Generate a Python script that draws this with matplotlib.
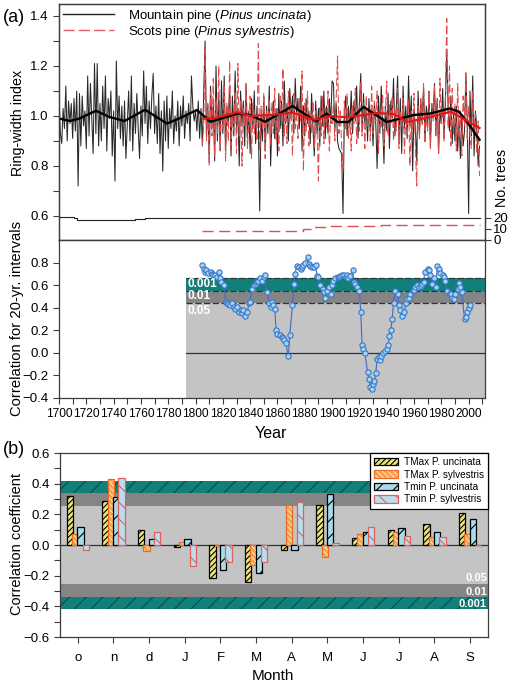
import numpy as np
import matplotlib
matplotlib.use('Agg')
import matplotlib.pyplot as plt
from matplotlib.patches import Patch
from matplotlib.lines import Line2D

plt.rcParams['font.family'] = ['Liberation Sans', 'DejaVu Sans']
plt.rcParams['mathtext.fontset'] = 'custom'
plt.rcParams['mathtext.rm'] = 'Liberation Sans'
plt.rcParams['mathtext.it'] = 'Liberation Sans:italic'
plt.rcParams['hatch.linewidth'] = 0.8

# ---- ring-width chronologies ----
mp_start = 1700
mp_rwi = [
    1.08, 0.93, 0.89, 1.03, 0.95, 1.12, 0.90, 1.06, 0.97, 1.05,
    0.91, 1.07, 0.94, 1.10, 0.72, 1.09, 0.88, 1.08, 0.96, 1.02,
    0.87, 1.16, 0.92, 1.13, 0.99, 0.85, 1.21, 0.93, 1.21, 0.88,
    1.05, 0.90, 1.12, 0.95, 1.16, 0.86, 1.07, 0.99, 1.10, 0.84,
    1.02, 0.74, 1.22, 0.95, 1.08, 0.91, 1.04, 0.88, 1.06, 0.83,
    0.97, 1.10, 0.90, 1.16, 0.86, 1.05, 0.93, 1.09, 0.95, 0.83,
    1.04, 0.92, 1.18, 0.97, 1.12, 0.89, 1.06, 0.95, 1.08, 1.17,
    0.93, 1.04, 0.89, 1.09, 0.85, 1.02, 0.78, 1.06, 0.90, 1.08,
    0.87, 1.03, 0.95, 1.10, 0.89, 1.00, 0.94, 1.06, 0.88, 1.04,
    0.96, 1.08, 0.91, 1.02, 0.97, 1.05, 0.90, 1.16, 1.04, 0.98,
    1.02, 0.94, 1.06, 0.91, 1.03, 0.88, 1.10, 1.30, 0.92, 1.04,
    0.83, 1.12, 0.95, 1.05, 0.82, 1.20, 0.90, 1.08, 0.87, 1.14,
    0.93, 1.16, 0.86, 1.04, 0.97, 1.12, 0.84, 1.08, 0.92, 1.18,
    0.95, 1.03, 0.80, 1.10, 0.96, 1.06, 0.88, 1.13, 0.91, 1.02,
    0.85, 1.07, 0.95, 1.10, 0.89, 1.04, 0.97, 0.62, 1.01, 0.90,
    1.08, 0.86, 1.04, 0.93, 1.12, 0.80, 0.99, 1.06, 0.91, 1.03,
    0.84, 1.09, 0.95, 1.06, 0.88, 1.14, 0.97, 1.05, 0.90, 1.11,
    0.99, 1.08, 0.93, 1.15, 1.00, 1.07, 0.95, 1.12, 0.86, 1.04,
    0.92, 1.07, 0.97, 1.02, 0.89, 1.09, 0.95, 0.84, 1.06, 0.93,
    1.03, 0.88, 1.08, 0.96, 1.10, 0.91, 1.04, 0.93, 1.07, 0.97,
    1.14, 1.13, 0.95, 1.05, 0.90, 0.87, 0.86, 0.85, 0.61, 1.00,
    1.08, 0.92, 1.04, 0.96, 1.10, 0.93, 1.06, 0.98, 1.12, 0.91,
    1.05, 1.17, 0.94, 1.09, 0.97, 1.03, 0.90, 1.07, 0.95, 1.02,
    0.88, 1.05, 0.97, 0.79, 1.08, 0.93, 1.12, 0.96, 0.81, 1.04,
    0.94, 1.09, 0.87, 1.06, 0.99, 1.15, 0.92, 1.03, 1.16, 0.90,
    1.07, 0.85, 1.12, 0.95, 1.04, 0.91, 1.16, 0.96, 1.08, 0.78,
    1.03, 0.95, 0.82, 1.10, 0.93, 1.06, 0.98, 1.12, 0.90, 1.04,
    0.96, 1.09, 0.88, 1.05, 0.99, 1.13, 0.93, 1.07, 0.85, 1.02,
    0.97, 1.11, 0.91, 1.06, 1.25, 1.03, 0.94, 1.08, 0.89, 1.01,
    0.90, 1.04, 0.86, 0.98, 0.83, 1.00, 0.88, 0.94, 1.16, 0.98,
    0.61, 1.10, 0.92, 1.16, 0.84, 1.02, 0.95, 0.80, 0.88,
]
sp_start = 1805
sp_rwi = [
    0.88, 0.97, 1.28, 0.90, 1.05, 0.80, 1.10, 0.92, 1.15, 0.84,
    1.07, 0.93, 1.20, 0.86, 1.02, 0.95, 1.12, 0.82, 1.05, 0.90,
    1.22, 0.88, 1.00, 0.94, 1.10, 0.85, 1.21, 0.92, 1.06, 0.80,
    1.03, 0.96, 1.12, 0.87, 0.99, 1.08, 0.83, 1.05, 0.93, 1.00,
    0.90, 1.29, 0.86, 1.04, 0.95, 1.09, 0.83, 1.02, 0.97, 1.07,
    0.88, 1.05, 0.93, 1.11, 0.90, 1.03, 0.86, 1.08, 0.96, 1.19,
    0.92, 1.04, 0.89, 1.10, 0.97, 1.06, 0.84, 1.09, 0.95, 1.02,
    0.91, 1.07, 0.98, 1.18, 0.78, 1.05, 0.94, 1.10, 0.88, 1.01,
    0.93, 1.06, 0.87, 1.02, 0.96, 0.74, 1.04, 0.92, 1.08, 0.89,
    1.03, 0.95, 1.10, 0.86, 1.00, 0.97, 1.05, 0.90, 1.07, 1.24,
    0.93, 1.02, 0.88, 0.79, 1.06, 0.95, 1.09, 0.91, 1.01, 0.86,
    1.04, 0.97, 1.11, 0.89, 1.03, 0.94, 1.14, 0.92, 1.05, 0.87,
    1.08, 0.96, 1.02, 0.90, 1.12, 0.93, 1.06, 0.98, 1.10, 0.85,
    1.03, 0.95, 1.09, 0.88, 1.00, 1.14, 0.92, 1.05, 0.97, 1.08,
    0.90, 1.03, 0.94, 1.11, 0.87, 1.02, 0.96, 1.07, 0.85, 1.00,
    0.93, 1.06, 0.80, 1.02, 0.95, 1.09, 0.88, 0.72, 1.04, 0.91,
    1.07, 0.96, 1.13, 0.89, 1.01, 0.94, 1.10, 0.87, 1.05, 0.98,
    1.12, 0.92, 1.06, 0.85, 1.15, 0.97, 1.03, 0.90, 1.08, 1.39,
    0.95, 1.20, 0.88, 1.11, 0.93, 1.05, 0.86, 1.13, 0.91, 1.02,
    0.84, 1.08, 0.96, 1.18, 0.90, 1.04, 0.92, 0.87, 1.10, 0.95,
    1.01, 0.85, 0.98, 0.76,
]

# smoothing splines, read every few years
mp_spl_years = [1700, 1708, 1715, 1727, 1737, 1748, 1763, 1779, 1788, 1801, 1811,
                1831, 1840, 1851, 1871, 1888, 1896, 1904, 1912, 1923, 1940, 1960,
                1972, 1986, 1993, 2001, 2008]
mp_spl = [0.99, 0.98, 0.99, 1.021, 0.996, 0.98, 1.025, 0.97, 0.99, 1.024, 0.977,
          1.01, 1.004, 0.977, 1.04, 0.979, 1.01, 0.976, 0.976, 1.037, 0.976, 1.004,
          1.01, 1.03, 1.017, 0.96, 0.905]
sp_spl_years = [1805, 1813, 1831, 1840, 1855, 1871, 1887, 1899, 1911, 1923, 1933,
                1945, 1955, 1967, 1987, 1999, 2008]
sp_spl = [0.99, 0.99, 1.015, 1.0, 1.004, 1.013, 0.985, 1.0, 0.995, 1.004, 1.012,
          1.008, 0.976, 0.99, 1.017, 0.98, 0.952]

# number of trees
mp_n_years = [1700, 1711, 1713, 1756, 1763, 2008]
mp_n = [21, 20, 18, 19, 20, 20]
sp_n_years = [1805, 1879, 1886, 1896, 1936, 2008]
sp_n = [8, 10, 12, 13, 14, 14]

# running 20-yr correlation between the two species
corr_years = [1805, 1806, 1807, 1808, 1809, 1811, 1812, 1813, 1814, 1816, 1817, 1818,
              1819, 1821, 1822, 1823, 1824, 1825, 1827, 1828, 1829, 1830, 1832, 1833,
              1834, 1835, 1836, 1838, 1839, 1840, 1841, 1843, 1844, 1845, 1846, 1847,
              1849, 1850, 1851, 1852, 1854, 1855, 1856, 1857, 1858, 1859, 1860, 1862,
              1863, 1864, 1865, 1866, 1868, 1869, 1871, 1872, 1873, 1874, 1876, 1877,
              1878, 1879, 1880, 1882, 1883, 1884, 1885, 1887, 1888, 1889, 1890, 1891,
              1893, 1894, 1895, 1896, 1898, 1899, 1900, 1901, 1902, 1904, 1905, 1906,
              1907, 1909, 1910, 1911, 1912, 1913, 1915, 1916, 1917, 1918, 1920, 1921,
              1922, 1923, 1924, 1926, 1927, 1928, 1929, 1930, 1931, 1932, 1933, 1934,
              1935, 1936, 1937, 1939, 1940, 1941, 1942, 1943, 1944, 1945, 1946, 1948,
              1949, 1950, 1951, 1953, 1954, 1955, 1956, 1957, 1959, 1960, 1961, 1962,
              1964, 1965, 1966, 1967, 1968, 1970, 1971, 1972, 1973, 1975, 1976, 1977,
              1978, 1979, 1981, 1982, 1983, 1984, 1986, 1987, 1988, 1989, 1990, 1992,
              1993, 1994, 1995, 1997, 1998, 1999, 2000, 2001]
corr_r = [0.78, 0.74, 0.72, 0.73, 0.71, 0.72, 0.70, 0.69, 0.69, 0.67, 0.715, 0.66,
          0.63, 0.60, 0.45, 0.44, 0.435, 0.42, 0.44, 0.41, 0.39, 0.41, 0.36, 0.38,
          0.35, 0.38, 0.33, 0.36, 0.44, 0.45, 0.57, 0.60, 0.61, 0.63, 0.64, 0.66,
          0.64, 0.67, 0.69, 0.54, 0.44, 0.41, 0.45, 0.42, 0.39, 0.20, 0.17, 0.16,
          0.14, 0.13, 0.11, 0.09, -0.03, 0.16, 0.42, 0.61, 0.70, 0.77, 0.76, 0.74,
          0.76, 0.78, 0.80, 0.85, 0.79, 0.77, 0.76, 0.76, 0.78, 0.68, 0.67, 0.60,
          0.57, 0.54, 0.49, 0.55, 0.58, 0.52, 0.60, 0.64, 0.66, 0.67, 0.67, 0.68,
          0.69, 0.69, 0.67, 0.69, 0.66, 0.68, 0.73, 0.63, 0.61, 0.58, 0.55, 0.36,
          0.07, 0.03, 0.00, -0.17, -0.23, -0.30, -0.32, -0.28, -0.25, -0.18, -0.05, -0.04,
          -0.06, -0.03, 0.00, 0.02, 0.03, 0.07, 0.15, 0.20, 0.30, 0.44, 0.55, 0.52,
          0.42, 0.38, 0.33, 0.36, 0.44, 0.48, 0.49, 0.52, 0.55, 0.56, 0.58, 0.60,
          0.58, 0.59, 0.61, 0.63, 0.72, 0.74, 0.73, 0.69, 0.61, 0.66, 0.58, 0.77,
          0.74, 0.71, 0.69, 0.67, 0.64, 0.55, 0.53, 0.52, 0.49, 0.48, 0.52, 0.57,
          0.62, 0.58, 0.54, 0.30, 0.32, 0.36, 0.40, 0.42]
corr_start = 1793
corr_sig = [0.44, 0.55, 0.66]
corr_sig_labels = ['0.05', '0.01', '0.001']

# ---- climate-growth correlations (panel b) ----
months = ['o', 'n', 'd', 'J', 'F', 'M', 'A', 'M', 'J', 'J', 'A', 'S']
tmax_unc = [0.32, 0.29, 0.10, -0.01, -0.215, -0.24, -0.03, 0.26, 0.045, 0.095, 0.14, 0.21]
tmax_syl = [0.075, 0.43, -0.04, 0.02, -0.005, -0.13, 0.26, -0.08, 0.073, 0.088, 0.055, 0.073]
tmin_unc = [0.12, 0.31, 0.04, 0.04, -0.16, -0.18, -0.035, 0.33, 0.084, 0.112, 0.088, 0.167]
tmin_syl = [-0.03, 0.44, 0.086, -0.136, -0.11, -0.11, 0.28, 0.01, 0.12, 0.06, 0.053, 0.003]
clim_sig = [0.255, 0.34, 0.42]
clim_sig_labels = ['0.05', '0.01', '0.001']

teal = '#12807a'
dgray = '#858585'
lgray = '#c4c4c4'
spine_c = '#3c3c3c'

fig = plt.figure(figsize=(5.1, 6.83), dpi=100)
W, H = 510.0, 683.0

def fx(px):
    return px / W

def fy(py):
    return 1 - py / H

ax1 = fig.add_axes([fx(59), fy(240), fx(485) - fx(59), fy(4) - fy(240)])
ax2 = fig.add_axes([fx(59), fy(398), fx(485) - fx(59), fy(240) - fy(398)])
ax3 = fig.add_axes([fx(60), fy(637), fx(488) - fx(60), fy(453) - fy(637)])

for ax in (ax1, ax2, ax3):
    for s in ax.spines.values():
        s.set_color(spine_c)
        s.set_linewidth(0.9)
    ax.tick_params(labelsize=9.5, colors=spine_c, labelcolor='black', length=4, width=0.8)
    ax.tick_params(which='minor', length=4, width=0.8, colors=spine_c)

# ---- panel a, ring widths ----
mp_years = np.arange(mp_start, mp_start + len(mp_rwi))
sp_years = np.arange(sp_start, sp_start + len(sp_rwi))
ax1.plot(mp_years, mp_rwi, color='#282828', lw=0.75)
ax1.plot(sp_years, sp_rwi, color='#e24a4a', lw=0.75, ls=(0, (8, 3)))
ax1.plot(mp_spl_years, mp_spl, color='black', lw=1.7)
ax1.plot(sp_spl_years, sp_spl, color='#e01818', lw=1.6)
ax1.set_xlim(1700, 2012)
ax1.set_ylim(0.504, 1.448)
ax1.set_yticks([0.6, 0.8, 1.0, 1.2, 1.4])
ax1.set_yticks(np.arange(0.6, 1.41, 0.1), minor=True)
ax1.set_xticks(np.arange(1700, 2011, 10))
ax1.tick_params(axis='x', labelbottom=False)

ax1t = ax1.twinx()
ax1t.step(mp_n_years, mp_n, where='post', color='#202020', lw=0.8)
ax1t.step(sp_n_years, sp_n, where='post', color='#e05050', lw=1.0, ls=(0, (8, 4)))
ax1t.set_ylim(0, 214.5)
ax1t.set_yticks([0, 10, 20])
ax1t.tick_params(labelsize=9.5, length=4, width=0.8, colors=spine_c, labelcolor='black', pad=2)
for s in ax1t.spines.values():
    s.set_color(spine_c)
    s.set_linewidth(0.9)

leg_handles = [Line2D([], [], color='#202020', lw=1.0),
               Line2D([], [], color='#e06060', lw=1.0, ls=(0, (8, 3)))]
ax1.legend(leg_handles,
           [r'Mountain pine ($\mathit{Pinus\ uncinata}$)',
            r'Scots pine ($\mathit{Pinus\ sylvestris}$)'],
           loc='upper left', frameon=False, fontsize=9.5, handlelength=3.9,
           handletextpad=1.0, labelspacing=0.0, borderaxespad=0.0,
           borderpad=0.3, bbox_to_anchor=(0.0, 1.0))

# ---- panel a, running correlation ----
ax2.set_xlim(1700, 2012)
ax2.set_ylim(-0.4, 1.0)
x_band = [corr_start, 2012]
ax2.fill_between(x_band, -0.4, corr_sig[0], color=lgray, lw=0)
ax2.fill_between(x_band, corr_sig[0], corr_sig[1], color=dgray, lw=0)
ax2.fill_between(x_band, corr_sig[1], corr_sig[2], color=teal, lw=0)
for lev in corr_sig:
    ax2.plot(x_band, [lev, lev], color='#333333', lw=0.9, ls=(0, (5, 2)))
ax2.plot(x_band, [0, 0], color='#333333', lw=0.9)
lab_y = [0.375, 0.50, 0.61]
for lab, yy in zip(corr_sig_labels, lab_y):
    ax2.text(corr_start + 1, yy, lab, color='white', fontsize=8.5,
             fontweight='bold', va='center', ha='left')
ax2.plot(corr_years, corr_r, color='#4a66c0', lw=0.8, marker='o', ms=3.8,
         mfc='#9fd6f4', mec='#3a74c8', mew=0.8)
ax2.set_yticks([-0.4, -0.2, 0.0, 0.2, 0.4, 0.6, 0.8])
ax2.set_xticks(np.arange(1700, 2001, 20))
ax2.set_xticks(np.arange(1700, 2011, 10), minor=True)
ax2.tick_params(axis='x', pad=3, labelsize=8.6)

# ---- panel b ----
ax3.set_xlim(-0.5, 11.5)
ax3.set_ylim(-0.6, 0.6)
xb = [-0.5, 11.5]
ax3.fill_between(xb, -clim_sig[0], clim_sig[0], color=lgray, lw=0)
for sgn in (1, -1):
    ax3.fill_between(xb, sgn * clim_sig[0], sgn * clim_sig[1], color=dgray, lw=0)
    ax3.fill_between(xb, sgn * clim_sig[1], sgn * clim_sig[2], facecolor=teal,
                     edgecolor='#0b4a47', hatch='//', lw=0)
ax3.axhline(0, color='#333333', lw=0.9)
lab_y = [-0.215, -0.305, -0.383]
for lab, yy in zip(clim_sig_labels, lab_y):
    ax3.text(11.47, yy, lab, color='white', fontsize=8, fontweight='bold',
             va='center', ha='right')

x = np.arange(len(months))
bw = 0.18
series = [
    (tmax_unc, -0.225, '#ece47a', 'black', '//////', 'black'),
    (tmax_syl, -0.075, '#f7a14e', '#fde3b0', '\\\\\\\\\\\\', '#ee6a2a'),
    (tmin_unc, 0.075, '#a5dcec', 'black', '//', 'black'),
    (tmin_syl, 0.225, '#b9def0', '#e0605c', '\\\\', '#e0605c'),
]
handles = []
for vals, off, fc, hc, hatch, ec in series:
    ax3.bar(x + off, vals, bw, color=fc, edgecolor=hc, hatch=hatch, lw=0, zorder=3)
    ax3.bar(x + off, vals, bw, fill=False, edgecolor=ec, lw=0.9, zorder=3)
    handles.append((Patch(facecolor=fc, edgecolor=hc, hatch=hatch, lw=0),
                    Patch(fill=False, edgecolor=ec, lw=0.9)))

ax3.set_xticks(x)
ax3.set_xticklabels(months)
ax3.set_yticks([-0.6, -0.4, -0.2, 0.0, 0.2, 0.4, 0.6])
ax3.set_yticks(np.arange(-0.6, 0.61, 0.1), minor=True)
ax3.tick_params(axis='x', pad=7)
leg = ax3.legend(handles, ['TMax P. uncinata', 'TMax P. sylvestris',
                           'Tmin P. uncinata', 'Tmin P. sylvestris'],
                 loc='upper right', bbox_to_anchor=(1.0, 1.0), borderaxespad=0,
                 fontsize=7.2, handlelength=2.4, handleheight=0.75,
                 labelspacing=0.25, handletextpad=0.6, fancybox=False,
                 framealpha=1, edgecolor='black')
leg.get_frame().set_linewidth(0.9)
leg.set_zorder(5)

# ---- labels ----
fig.text(fx(3), fy(18), '(a)', fontsize=13, va='center', ha='left')
fig.text(fx(3), fy(450), '(b)', fontsize=13, va='center', ha='left')
fig.text(fx(18), fy(123), 'Ring-width index', fontsize=10.3, rotation=90,
         va='center', ha='center')
fig.text(fx(502), fy(178), 'No. trees', fontsize=10.3, rotation=90,
         va='center', ha='center')
fig.text(fx(17), fy(319), 'Correlation for 20-yr. intervals', fontsize=10.6,
         rotation=90, va='center', ha='center')
fig.text(fx(271), fy(433), 'Year', fontsize=11.5, va='center', ha='center')
fig.text(fx(17), fy(544), 'Correlation coefficient', fontsize=10.5, rotation=90,
         va='center', ha='center')
fig.text(fx(273), fy(676), 'Month', fontsize=11, va='center', ha='center')

fig.savefig('out.png', dpi=100)
